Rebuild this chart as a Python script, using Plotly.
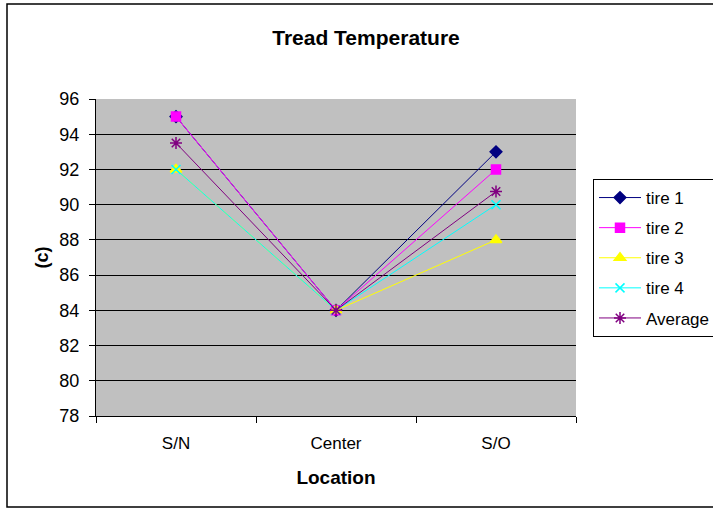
import plotly.graph_objects as go

locations = ["S/N", "Center", "S/O"]
tire1 = [95, 84, 93]
tire2 = [95, 84, 92]
tire3 = [92, 84, 88]
tire4 = [92, 84, 90]
average = [93.5, 84, 90.75]

series = [
    ("tire 1", tire1, "#000080", "diamond", 9),
    ("tire 2", tire2, "#FF00FF", "square", 9),
    ("tire 3", tire3, "#FFFF00", "triangle-up", 10),
    ("tire 4", tire4, "#00FFFF", "x-thin-open", 9),
    ("Average", average, "#800080", "asterisk-open", 10),
]

W, H = 713, 510
L, R, T, B = 96, 576, 99, 416

fig = go.Figure()
for i, (name, vals, color, sym, size) in enumerate(series):
    fig.add_trace(go.Scatter(
        x=locations, y=vals, name=name, mode="lines+markers",
        legendgroup=f"g{i}",
        line=dict(color=color, width=1),
        marker=dict(symbol=sym, size=size, color=color,
                    line=dict(color=color, width=1.5)),
    ))

def px_x(p):
    return (p - L) / (R - L)

def px_y(p):
    return (B - p) / (B - T)

fig.add_shape(type="rect", xref="paper", yref="paper",
              x0=px_x(7), x1=px_x(740), y0=px_y(507), y1=px_y(4),
              line=dict(color="black", width=1.5), fillcolor="rgba(0,0,0,0)",
              layer="below")

fig.update_layout(
    width=W, height=H,
    margin=dict(l=L, r=W - R, t=T, b=H - B, autoexpand=False),
    paper_bgcolor="white",
    plot_bgcolor="#C0C0C0",
    font=dict(family="Liberation Sans, Arial, sans-serif", size=17, color="black"),
    title=dict(text="<b>Tread Temperature</b>", x=366 / W,
               xanchor="center", y=1 - 38 / H, yanchor="middle",
               font=dict(size=21)),
    showlegend=True,
    legend=dict(x=px_x(593), y=px_y(179), xanchor="left", yanchor="top",
                bgcolor="white", bordercolor="black", borderwidth=1,
                font=dict(size=17), tracegroupgap=5, traceorder="grouped",
                itemwidth=42),
    xaxis=dict(
        title=dict(text="<b>Location</b>", font=dict(size=19), standoff=18),
        tickson="boundaries", ticks="outside", ticklen=6, tickcolor="black",
        showline=True, linecolor="black", linewidth=1,
        showgrid=False, range=[-0.5, 2.5], tickfont=dict(size=17),
        ticklabelstandoff=12, automargin=False,
    ),
    yaxis=dict(
        title=dict(text="<b>(c)</b>", font=dict(size=18), standoff=6),
        range=[78, 96], dtick=2, ticks="outside", ticklen=6, tickcolor="black",
        showline=True, linecolor="black", linewidth=1,
        showgrid=True, gridcolor="black", gridwidth=1,
        tickfont=dict(size=18), zeroline=False, ticklabelstandoff=6,
        automargin=False,
    ),
)

fig.write_html("out.html")
